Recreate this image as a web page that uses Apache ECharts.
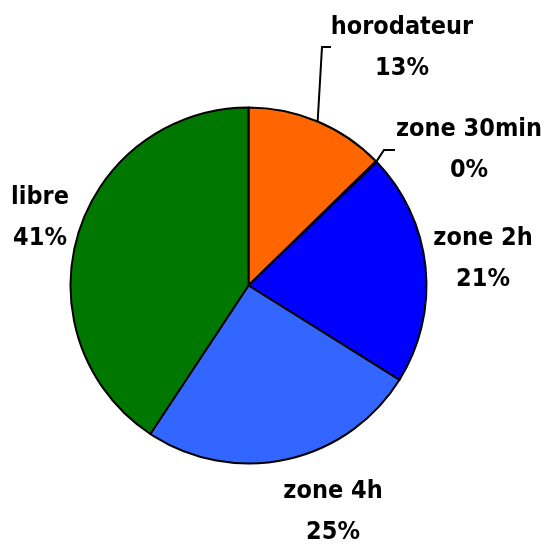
<!DOCTYPE html>
<html>
<head>
<meta charset="utf-8">
<script src="https://cdn.jsdelivr.net/npm/echarts@6/dist/echarts.min.js"></script>
<style>
  html, body { margin: 0; padding: 0; background: #fff; }
  #chart { width: 544px; height: 545px; }
</style>
</head>
<body>
<div id="chart"></div>
<script>
// categories and shares (percent), clockwise from 12 o'clock
const categories = ['horodateur', 'zone 30min', 'zone 2h', 'zone 4h', 'libre'];
const values = [12.7, 0.1, 21.1, 25.4, 40.7];
const colors = ['#ff6600', '#0000ff', '#0000ff', '#3366ff', '#007700'];

// where each label block sits, and its leader line (elbow, end); null = no line
const labelPos = [[402, 48], [469, 150], [483, 259], [333, 512], [40, 218]];
const leaders = [[[322, 47], [331, 47]], [[384, 150], [395, 150]], null, null, null];

const cx = 248.5, cy = 285.5, r = 178;

let chart = echarts.init(document.getElementById('chart'));

let total = values.reduce((a, b) => a + b, 0);
let edgePoints = [];
let acc = 0;
values.forEach(v => {
  let mid = (acc + v / 2) / total * Math.PI * 2;
  edgePoints.push([cx + r * Math.sin(mid), cy - r * Math.cos(mid)]);
  acc += v;
});

let option = {
  animation: false,
  series: [
    {
      type: 'pie',
      center: [cx, cy],
      radius: r,
      startAngle: 90,
      clockwise: true,
      minAngle: 0,
      avoidLabelOverlap: false,
      itemStyle: {borderColor: '#000', borderWidth: 2},
      label: {
        show: true,
        position: 'outside',
        formatter: p => p.name + '\n' + Math.round(p.percent) + '%',
        fontFamily: '"Liberation Sans Narrow", "DejaVu Sans Condensed", "Liberation Sans", Arial, sans-serif',
        fontWeight: 'bold',
        fontSize: 25,
        lineHeight: 41,
        color: '#000',
        align: 'center'
      },
      labelLine: {
        show: true,
        length: 10,
        length2: 10,
        lineStyle: {color: '#000', width: 2}
      },
      labelLayout: function (params) {
        let i = params.dataIndex;
        let res = {
          x: labelPos[i][0],
          y: labelPos[i][1],
          align: 'center',
          verticalAlign: 'middle'
        };
        if (leaders[i]) {
          res.labelLinePoints = [edgePoints[i], leaders[i][0], leaders[i][1]];
        }
        return res;
      },
      emphasis: {disabled: true},
      data: categories.map((name, i) => ({
        name: name,
        value: values[i],
        itemStyle: {color: colors[i]},
        labelLine: {show: leaders[i] !== null}
      }))
    }
  ]
};
chart.setOption(option);
</script>
</body>
</html>
